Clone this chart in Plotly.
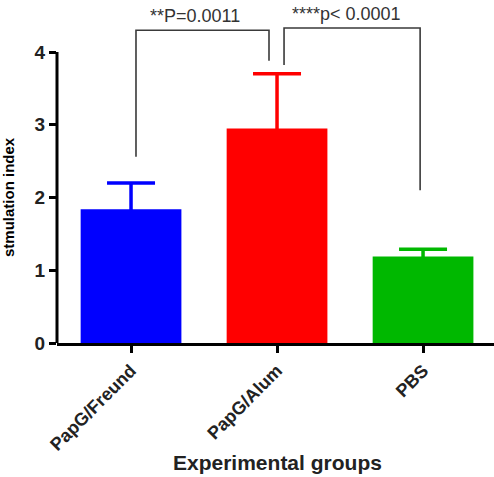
import plotly.graph_objects as go

# ---- data ----
groups = ["PapG/Freund", "PapG/Alum", "PBS"]
means = [1.84, 2.95, 1.19]
sem = [0.36, 0.75, 0.10]
colors = ["#0000FF", "#FF0000", "#00B800"]
y_ticks = [0, 1, 2, 3, 4]

# significance comparisons
comp_left = [0, 1]
comp_right = [1, 2]
comp_labels = ["**P=0.0011", "****p< 0.0001"]
comp_left_bottom = [2.56, 3.82]
comp_right_bottom = [3.88, 2.10]
comp_top = [4.30, 4.33]

FONT = "Liberation Sans, Arial, sans-serif"
Y_MAX = 4.44

fig = go.Figure()
for i, g in enumerate(groups):
    fig.add_trace(go.Bar(
        x=[i], y=[means[i]], width=0.69,
        marker=dict(color=colors[i], line=dict(width=0)),
        # small downward part keeps the lower cap hidden inside the bar
        error_y=dict(type="data", array=[sem[i]], arrayminus=[0.06], symmetric=False,
                     thickness=3.5, width=24, color=colors[i]),
        showlegend=False, name=g,
    ))

shapes = []
annotations = []
leg_in = [(0.034, -0.055), (0.048, -0.02)]
label_shift = [-0.05, -0.035]
for k in range(len(comp_labels)):
    xl = comp_left[k] + leg_in[k][0]
    xr = comp_right[k] + leg_in[k][1]
    top = comp_top[k]
    path = f"M {xl},{comp_left_bottom[k]} L {xl},{top} L {xr},{top} L {xr},{comp_right_bottom[k]}"
    shapes.append(dict(type="path", path=path, xref="x", yref="y",
                       line=dict(color="#3a3a3a", width=1.6)))
    annotations.append(dict(x=(xl + xr) / 2 + label_shift[k], y=(top + 0.19) / Y_MAX,
                            xref="x", yref="paper", text=comp_labels[k], showarrow=False,
                            font=dict(family=FONT, size=18, color="#333333"),
                            yanchor="middle"))

# y axis line only from 0 to 4
shapes.append(dict(type="line", xref="paper", yref="y", x0=0, x1=0, y0=0, y1=max(y_ticks),
                   line=dict(color="black", width=3)))

annotations.append(dict(x=-0.135, y=2, xref="paper", yref="y", text="stmulation index",
                        textangle=-90, showarrow=False,
                        font=dict(family=FONT, size=15, color="black", weight="bold")))
annotations.append(dict(x=0.505, y=-0.3715, xref="paper", yref="paper",
                        text="Experimental groups", showarrow=False, yanchor="middle",
                        font=dict(family=FONT, size=21, color="#222222", weight="bold")))

fig.update_layout(
    width=494, height=477,
    margin=dict(l=57, r=0, t=20, b=134),
    plot_bgcolor="white", paper_bgcolor="white",
    shapes=shapes, annotations=annotations,
    xaxis=dict(
        tickmode="array", tickvals=list(range(len(groups))), ticktext=groups,
        range=[-0.507, 2.486], showgrid=False, zeroline=False,
        showline=True, linecolor="black", linewidth=3,
        ticks="outside", ticklen=7, tickwidth=2.5, tickcolor="black",
        tickangle=-45,
        tickfont=dict(family=FONT, size=18, color="#222222", weight="bold"),
    ),
    yaxis=dict(
        tickmode="array", tickvals=y_ticks, range=[0, Y_MAX],
        showgrid=False, zeroline=False, showline=False,
        ticks="outside", ticklen=7, tickwidth=2.5, tickcolor="black",
        tickfont=dict(family=FONT, size=19, color="#222222", weight="bold"),
    ),
)

fig.write_html("out.html", config={"displayModeBar": False},
               post_script="document.body.style.margin='0';")
